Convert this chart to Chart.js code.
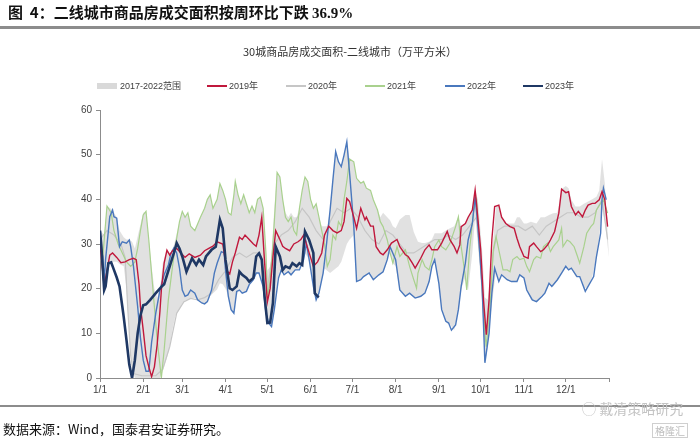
<!DOCTYPE html>
<html>
<head>
<meta charset="utf-8">
<script src="https://cdn.jsdelivr.net/npm/chart.js@4.4.0/dist/chart.umd.min.js"></script>
<style>
  body { margin: 0; background: #fff; font-family: "Liberation Sans", "Noto Sans CJK SC", sans-serif; }
  #wrap { position: relative; width: 700px; height: 441px; overflow: hidden; }
  canvas { position: absolute; left: 0; top: 0; }
  .abs { position: absolute; white-space: nowrap; }
  #head { left: 8px; top: 1px; font: bold 15px "Noto Sans CJK SC", sans-serif; color: #111; }
  #head b { font-family: "Liberation Serif", serif; }
  .rule { position: absolute; left: 0; width: 700px; background: #8c8c8c; }
  #title { left: 0; width: 700px; top: 43px; text-align: center; font: 11px "Noto Sans CJK SC", sans-serif; color: #333; }
  .lg { position: absolute; top: 80px; font: 9px "Liberation Sans", "Noto Sans CJK SC", sans-serif; color: #404040; line-height: 12px; }
  .sw { position: absolute; }
  #src { left: 3px; top: 419px; font: 13px "Noto Sans CJK SC", sans-serif; color: #111; }
  #wm { left: 582px; top: 398px; font: 14px "Noto Sans CJK SC", sans-serif; color: #c4c4c4; }
  #wm2 { left: 652px; top: 423px; font: 10px "Noto Sans CJK SC", sans-serif; color: #bdbdbd; border: 1px solid #cfcfcf; padding: 0 2px; line-height: 13px; }
</style>
</head>
<body>
<div id="wrap">
  <canvas id="c" width="700" height="441"></canvas>
  <div id="head" class="abs">图&nbsp; 4：二线城市商品房成交面积按周环比下跌 <b>36.9%</b></div>
  <div class="rule" style="top:26px;height:3px;"></div>
  <div id="title" class="abs">30城商品房成交面积-二线城市（万平方米）</div>
  <div id="legend"></div>
  <div class="rule" style="top:405px;height:2px;"></div>
  <div id="wm" class="abs">&#9711; 戴清策略研究</div>
  <div id="src" class="abs">数据来源：Wind，国泰君安证券研究。</div>
  <div id="wm2" class="abs">格隆汇</div>
</div>
<script>
// day of year -> value
var monthDays = [0, 31, 59, 90, 120, 151, 181, 212, 243, 273, 304, 334, 365];
var monthLabels = ["1/1", "2/1", "3/1", "4/1", "5/1", "6/1", "7/1", "8/1", "9/1", "10/1", "11/1", "12/1", ""];

// 2017-2022 range: [day, high, low]
var band = [
  [0,33,28],[3,32,20],[5,38.5,24],[9,37.6,26],[12,36,26],[14,33,25.5],[17,31.5,25],[19,31,20],[21,31,10],[23,30.5,2],
  [25,29,0],[28,33,0],[31,37,0],[33,37.3,0],[35,31,0],[37,25,0],[39,20,0],[41,18,0],[43,20,0],[45,25.7,1.5],
  [48,28.6,4.5],[50,28,7],[52,28.5,10.8],[54,31,13.8],[57,35,15.3],[59,37.3,16.8],[61,36,17.3],[63,37,17.5],[65,34,17.8],[68,33,17.9],
  [70,34.5,17.5],[72,36,17],[75,38,16.6],[77,40,17],[79,41,18.3],[81,38,19],[84,40,19.8],[86,43.5,21.2],[88,42,21],[90,40,20],
  [92,37,18.3],[94,36.5,15.3],[96,41,14.5],[97,44,17],[99,41,19.4],[101,39,19.5],[103,41,19],[105,39,19.4],[107,37,20.9],[109,38.5,21.5],
  [111,37,22.5],[113,40,23.5],[115,40.5,23],[117,38,20.5],[119,28,14.5],[120,24,13],[122,25,12],[123,28,11.5],[125,38,15.3],[127,46,22],
  [129,45,24],[131,40,23.5],[133,37,23.5],[135,36,23.8],[137,37,23.1],[139,36,24],[141,36,24.2],[143,38,24.2],[145,42,25.5],[147,45,28],
  [149,44,27],[151,40,25],[153,38,20.5],[155,39,17.5],[157,36,19],[159,34,22],[161,34,24.5],[163,34,24],[165,37.6,23.5],[167,44.3,24],
  [169,50.7,24.5],[171,48.4,25],[173,47.3,26],[175,49.9,28],[177,52.9,30],[179,49,31],[182,48.4,32],[184,44.7,21.6],[187,43.6,22],[189,44,22.7],
  [191,42.5,23],[194,42,23.5],[196,39.9,22],[199,37.6,23],[201,36,23.5],[203,37,23.8],[206,36,26.5],[208,35.3,28],[210,34,25.7],[212,33.5,25],
  [215,35.5,19.7],[219,36.5,18.3],[222,36.5,19],[225,32.7,18],[228,30.5,18],[231,30.2,18.3],[233,30.2,19],[236,30.5,21.6],[238,31,24.5],[240,32.4,26],
  [243,32.4,21.2],[245,32.4,15.3],[248,33,12.7],[251,33.5,12],[254,34,10.7],[257,36.1,15.3],[259,34,20],[262,34.6,22.5],[264,36,19.7],[267,37.6,28],
  [269,42.1,36],[271,39.9,30],[274,28.7,18],[276,18,3.4],[278,17.5,7],[280,22,14],[282,31,19],[284,38.4,24],[286,38.7,21.6],[288,36,23],
  [291,34.6,22],[294,34.6,21.6],[297,34.6,21.6],[299,36,21.6],[301,36,23],[304,34.6,22.4],[306,34.6,19.7],[309,35,17.5],[313,34.6,17.1],[316,36,18.3],
  [319,36,19],[322,36.5,21],[325,36.9,20.5],[328,37,22],[331,42.3,23.5],[334,43,25],[336,42.5,24.2],[338,39.9,24.6],[341,38.4,22.7],[344,38.4,22.7],
  [347,39,20],[350,39.5,20.5],[353,40,22.7],[356,40.6,27],[358,42,31.6],[360,49,38],[362,43.6,35],[365,27,27]
];

var s2019 = [
  [0,30],[3,20.5],[7,27.5],[9,28],[12,27],[15,25.8],[18,26],[21,26.5],[24,26.8],[26,26.5],[28,21],[29,16],[31,10.7],[33,5],[35,2.5],
  [37,0.3],[39,2.5],[41,7.5],[43,15],[44,19.7],[46,25.7],[48,28.6],[50,27.5],[52,28.5],[55,29],[58,28],[61,27],[64,27.8],[68,27],[72,27.5],
  [75,28.5],[78,29],[81,29.5],[84,30.5],[88,30],[91,24],[93,23.3],[95,26],[97,28],[100,31.5],[102,31],[104,32],[107,31],[110,30],[112,29.5],
  [114,32],[116,36],[118,26],[120,17],[122,20],[124,27],[126,33],[129,31],[131,29.5],[133,29],[136,28.5],[139,30],[142,30.5],[144,31],[146,32],
  [148,30],[151,27],[153,25],[156,26],[159,28],[161,32],[164,34],[167,33],[170,32.5],[173,33],[175,35],[177,40.2],[179,39.5],[182,36],[184,33.5],
  [187,38],[190,35.4],[191,36],[194,34],[196,34],[198,29.4],[201,28],[203,27.6],[206,28.7],[209,30.2],[213,31],[215,29.4],[219,27.6],[221,27.2],[224,25.7],
  [226,24.6],[230,26.8],[233,28.7],[236,29.8],[238,28.7],[242,28.7],[245,30.2],[249,32.8],[251,30.9],[254,29.4],[256,28],[258,29.8],[259,33.9],[262,34.6],[264,36],
  [267,37.6],[269,42.1],[270,39],[273,28.7],[275,17.5],[277,9.7],[279,17.5],[281,31],[283,38.4],[286,38.7],[288,36],[291,34.6],[294,33.9],[297,33.5],[299,31.3],
  [301,29.4],[304,27.2],[307,26.8],[308,29.4],[311,30.2],[313,29.4],[316,28.3],[318,28.7],[321,29.8],[323,30.9],[326,32.8],[329,36.9],[331,42.3],[334,41.5],[336,41.7],
  [338,38.4],[341,36.5],[343,37.3],[346,36.1],[348,37.6],[350,38.7],[353,39.1],[355,39.1],[358,39.9],[360,41.7],[362,39.9],[364,33.9]
];

var s2020 = [
  [0,31],[5,33],[10,32],[15,30],[18,27],[20,15],[22,5],[24,1],[30,0.5],[40,0.5],[45,2],[50,7],[55,14.5],[60,17],[65,17.8],
  [70,17.5],[75,18],[80,19],[85,22],[90,24],[95,27],[100,28],[105,27],[110,28],[115,28],[120,20],[125,30],[130,32],[135,33],[140,35],
  [145,38],[150,36],[155,33],[160,31],[165,35],[170,38],[175,37],[180,38],[185,36],[190,33],[195,31],[200,30],[205,33],[210,32],[215,30],
  [220,28],[225,28],[230,29],[235,30],[240,31],[245,31],[250,32],[255,31],[260,32],[265,34],[270,36],[273,25],[276,8],[279,15],[282,28],
  [285,33],[290,34],[295,34],[300,34],[305,33],[310,34],[315,32],[320,34],[325,35],[330,36],[335,37],[340,37],[345,36],[350,36],[355,37],
  [360,40],[364,31]
];

var s2021 = [
  [0,31],[2,27],[5,38.5],[8,37],[10,33],[13,30],[16,28],[19,26],[22,25],[25,26],[27,29],[29,33],[31,36.5],[33,37.3],[35,30.9],
  [38,19.7],[41,8.5],[44,0],[46,6.3],[49,17.5],[52,25],[54,29.4],[57,35],[59,37.3],[61,36],[63,37],[65,34],[68,33],[70,34.5],[72,36],
  [75,38],[77,40],[79,41],[81,38],[84,40],[86,43.5],[88,42],[90,40],[92,37],[94,36.5],[96,41],[97,44],[99,41],[101,39],[103,41],
  [105,39],[107,37],[109,38.5],[111,37],[113,40],[115,40.5],[117,38],[119,28],[120,18],[122,22],[124,30],[126,40],[127,46],[129,45],[131,40],
  [133,36],[135,35],[137,36],[139,33],[141,32],[143,38],[145,42],[147,45],[149,44],[151,40],[153,38],[155,39],[157,36],[159,33],[161,30],
  [163,25],[165,26.5],[167,32],[169,31],[171,35],[173,34],[175,40],[177,44],[179,49],[182,48.4],[184,44.7],[187,43.6],[189,44],[191,42.5],[194,42],
  [196,39.9],[199,37.6],[201,35],[203,33.9],[206,30.9],[208,28],[210,25.7],[213,29.4],[215,27.2],[219,28.7],[222,25],[225,22],[227,20.1],[228,23.5],[231,26.5],
  [233,25],[236,24.2],[238,26.5],[240,29.4],[243,30.9],[245,29.4],[248,28.7],[251,30.2],[255,33.9],[257,36.1],[259,29.4],[262,22.7],[263,19.7],[265,28.7],[268,37.6],
  [270,39.9],[273,26.5],[276,10],[277,7],[280,17.5],[282,28.7],[284,31.7],[287,27.2],[289,24.2],[292,24.2],[294,23.8],[296,26.5],[299,27.2],[301,26.5],[304,26.8],
  [306,25],[308,23.8],[311,26.5],[313,27.2],[316,26.8],[318,29.4],[321,30.2],[323,28.3],[325,29.4],[329,30.9],[331,33.5],[332,29.4],[335,30.9],[337,30.5],[340,29.4],
  [342,27.6],[344,25.7],[347,29.4],[349,32.4],[352,33.9],[354,34.6],[356,37.6],[359,39.1],[361,39.9],[364,36.9]
];

var s2022 = [
  [0,30.2],[2,27.2],[3,21.6],[4,26.5],[7,36.1],[9,37.6],[10,36.1],[12,35.8],[14,29.4],[16,30.5],[19,30.2],[21,30.9],[22,29.4],[24,25],[27,16],
  [29,9],[31,4],[33,1.5],[35,1.5],[37,8],[40,14.5],[43,19.7],[46,23.1],[49,25.3],[51,28],[53,29.1],[55,28],[57,24.6],[59,19.7],[61,18.3],
  [63,18.6],[65,19.7],[68,19],[70,17.5],[73,16.8],[75,16.6],[77,17.1],[80,19.7],[82,23.5],[84,25.7],[87,28.3],[89,28],[90,24.2],[92,18.3],[94,15.3],
  [96,14.5],[98,19.4],[100,19.7],[102,19],[105,19.4],[107,20.9],[110,22],[112,23.5],[114,23.5],[117,20.5],[119,14.5],[121,12.3],[123,11.5],[125,15.3],[128,22.4],
  [130,24.2],[132,23.1],[135,23.8],[137,23.1],[140,24.2],[143,24.2],[146,26.5],[148,30.2],[150,26.5],[153,20.5],[155,17.5],[157,19],[160,23.5],[162,28.7],[165,37.6],
  [167,44.3],[169,50.7],[171,48.4],[173,47.3],[175,49.9],[177,52.9],[179,45.8],[182,33.9],[184,21.6],[187,22],[189,22.7],[193,23.5],[196,22],[200,23.1],[203,23.8],
  [206,26.5],[208,29.4],[212,26.5],[215,19.7],[219,18.3],[222,19],[226,17.9],[230,18.3],[233,19],[236,21.6],[238,25],[240,26.5],[243,21.2],[245,15.3],[248,12.7],
  [250,12.3],[252,10.7],[255,11.9],[257,15.3],[259,20.5],[262,25.7],[264,30.9],[267,34.6],[269,40.6],[271,33.9],[274,20.5],[276,3.4],[279,10],[281,19],[283,24.6],
  [286,21.6],[288,23.1],[292,22],[295,21.6],[299,21.6],[301,23.1],[304,22.4],[306,19.7],[310,17.5],[313,17.1],[317,18.3],[319,19],[322,21.2],[324,20.5],[328,22],
  [331,23.5],[334,25],[336,24.2],[338,24.6],[342,22.7],[344,22.7],[348,19.4],[350,20.5],[354,22.7],[356,27.2],[359,32.4],[360,39.9],[361,42.5],[363,39.9]
];

var s2023 = [
  [0,33],[1,29.4],[3,19.7],[4,20.5],[6,25.7],[8,25.9],[10,24.2],[12,22.5],[14,20.5],[16,16],[17,13.7],[19,8.5],[21,3],[23,0],[25,4],
  [27,10],[29,14],[31,16.3],[33,16.5],[36,17.5],[40,19],[44,20.4],[46,21],[50,25],[53,28],[55,30.2],[57,29],[59,27.2],[62,23.8],[64,25.3],
  [66,26.8],[69,25.3],[71,26.5],[74,25.3],[76,27.2],[80,28.7],[83,29.4],[86,35.4],[88,33.5],[90,26.5],[93,20.1],[95,19.7],[98,20.5],[100,23.8],[102,23.1],
  [105,22.4],[107,21.6],[110,22.4],[112,27.2],[114,27.9],[116,26.5],[118,18.3],[120,12.3],[122,12.4],[124,16.8],[126,29.4],[129,27.2],[131,24.2],[133,25],[136,24.6],
  [138,25.7],[141,25],[143,25.7],[145,25.3],[147,32.8],[150,30.9],[153,28],[154,19],[156,18.3],[157,18.1]
];

function pts(arr, k) {
  return arr.map(function (r) { return { x: r[0], y: r[k || 1] }; });
}

function line(label, arr, color, width, order) {
  return {
    label: label, data: pts(arr), borderColor: color, borderWidth: width,
    pointRadius: 0, fill: false, tension: 0, order: order
  };
}

var datasets = [
  {
    label: "2017-2022范围", data: pts(band, 1), borderWidth: 0, borderColor: "rgba(0,0,0,0)",
    backgroundColor: "rgba(215,215,215,0.75)", fill: "+1", pointRadius: 0, tension: 0, order: 10
  },
  {
    label: "low", data: pts(band, 2), borderWidth: 0, borderColor: "rgba(0,0,0,0)",
    pointRadius: 0, fill: false, tension: 0, order: 11
  },
  line("2020年", s2020, "#c6c6c6", 1.2, 6),
  line("2021年", s2021, "#a9d18e", 1.2, 5),
  line("2022年", s2022, "#4a78bd", 1.4, 4),
  line("2019年", s2019, "#c0183c", 1.4, 3),
  line("2023年", s2023, "#1f3864", 2.6, 1)
];

// legend, same colours as the datasets
var legendItems = [
  { text: "2017-2022范围", color: "#d9d9d9", sx: 97, tx: 120, h: 6 },
  { text: "2019年", color: "#c0183c", sx: 207, tx: 229, h: 1.5 },
  { text: "2020年", color: "#c6c6c6", sx: 286, tx: 308, h: 1.5 },
  { text: "2021年", color: "#a9d18e", sx: 365, tx: 387, h: 1.5 },
  { text: "2022年", color: "#4a78bd", sx: 445, tx: 467, h: 1.5 },
  { text: "2023年", color: "#1f3864", sx: 523, tx: 545, h: 2.6 }
];
var lg = document.getElementById("legend");
legendItems.forEach(function (it) {
  var sw = document.createElement("div");
  sw.className = "sw";
  sw.style.cssText = "left:" + it.sx + "px;width:20px;top:" + (86 - it.h / 2) + "px;height:" + it.h + "px;background:" + it.color;
  lg.appendChild(sw);
  var t = document.createElement("div");
  t.className = "lg";
  t.style.left = it.tx + "px";
  t.textContent = it.text;
  lg.appendChild(t);
});

var axisColor = "#8c8c8c";

new Chart(document.getElementById("c").getContext("2d"), {
  type: "line",
  data: { datasets: datasets },
  options: {
    responsive: false,
    animation: false,
    layout: { padding: { left: 70, right: 91, top: 110, bottom: 41 } },
    plugins: { legend: { display: false }, tooltip: { enabled: false } },
    scales: {
      x: {
        type: "linear", min: 0, max: 365,
        afterBuildTicks: function (s) { s.ticks = monthDays.map(function (d) { return { value: d }; }); },
        afterFit: function (s) { s.height = 22; },
        ticks: {
          autoSkip: false, maxRotation: 0, padding: 2,
          color: "#404040", font: { size: 10, family: "Liberation Sans" },
          callback: function (v) { var i = monthDays.indexOf(v); return i >= 0 ? monthLabels[i] : ""; }
        },
        grid: { drawOnChartArea: false, drawTicks: true, tickLength: 4, color: axisColor },
        border: { color: axisColor }
      },
      y: {
        min: 0, max: 60,
        afterFit: function (s) { s.width = 30; },
        ticks: { stepSize: 10, padding: 4, color: "#404040", font: { size: 10, family: "Liberation Sans" } },
        grid: { drawOnChartArea: false, drawTicks: true, tickLength: 4, color: axisColor },
        border: { color: axisColor }
      }
    }
  }
});
</script>
</body>
</html>
